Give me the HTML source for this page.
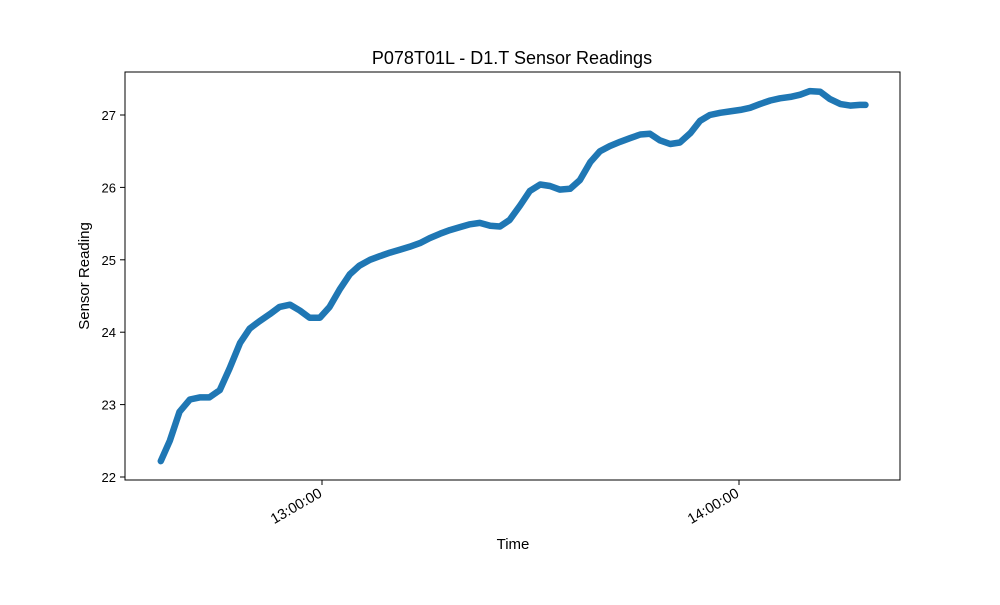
<!DOCTYPE html>
<html><head><meta charset="utf-8"><style>
body{margin:0;background:#fff}
svg text{font-family:"Liberation Sans","DejaVu Sans",sans-serif;fill:#000}
</style></head><body>
<svg id="chart" width="1000" height="600">
<rect width="1000" height="600" fill="#fff"/>
<text x="512" y="64" font-size="18" text-anchor="middle">P078T01L - D1.T Sensor Readings</text>
<g id="plot"></g>
<rect x="125" y="72" width="775" height="408" fill="none" stroke="#000" stroke-width="1"/>
<text x="513" y="549" font-size="15" text-anchor="middle">Time</text>
<text transform="translate(89,276) rotate(-90)" font-size="15" text-anchor="middle">Sensor Reading</text>
</svg>
<script>
// minutes since 12:00
const times=[36.8,38.1,39.5,41.0,42.4,43.8,45.3,46.7,48.2,49.6,51.0,52.5,53.9,55.4,56.8,58.2,59.7,61.1,62.6,64.0,65.4,66.9,68.3,69.8,71.2,72.6,74.1,75.5,77.0,78.4,79.8,81.3,82.7,84.2,85.6,87.0,88.5,89.9,91.4,92.8,94.2,95.7,97.1,98.6,100.0,101.4,102.9,104.3,105.8,107.2,108.6,110.1,111.5,113.0,114.4,115.8,117.3,118.7,120.2,121.6,123.0,124.5,125.9,127.4,128.8,130.2,131.7,133.1,134.6,136.0,137.4,138.2];
const readings=[22.22,22.5,22.9,23.07,23.1,23.1,23.2,23.5,23.85,24.05,24.15,24.25,24.35,24.38,24.3,24.2,24.2,24.35,24.6,24.8,24.92,25.0,25.05,25.1,25.14,25.18,25.23,25.3,25.36,25.41,25.45,25.49,25.51,25.47,25.46,25.55,25.75,25.95,26.04,26.02,25.97,25.98,26.1,26.35,26.5,26.57,26.63,26.68,26.73,26.74,26.65,26.6,26.62,26.75,26.92,27.0,27.03,27.05,27.07,27.1,27.15,27.2,27.23,27.25,27.28,27.33,27.32,27.22,27.15,27.13,27.14,27.14];
const yTicks=[22,23,24,25,26,27];
const xTicks=[60,120];
const xTickLabels=["13:00:00","14:00:00"];
const NS="http://www.w3.org/2000/svg";
const X=m=>322+(m-60)*417/60;
const Y=v=>477-(v-22)*72.4;
const g=document.getElementById('plot');
function mk(t,a){const e=document.createElementNS(NS,t);for(const k in a)e.setAttribute(k,a[k]);g.appendChild(e);return e;}
yTicks.forEach(v=>{
 const l=mk('line',{x1:125,x2:120,y1:Y(v),y2:Y(v),stroke:'#000'});
 
 
 const t=mk('text',{x:116,y:Y(v)+5,'font-size':13,'text-anchor':'end'});t.textContent=v;
 
 
});
xTicks.forEach((m,i)=>{
 const l=mk('line',{x1:X(m),x2:X(m),y1:480,y2:485,stroke:'#000'});
 
 
 const t=mk('text',{transform:`translate(${X(m)+1},${496}) rotate(-30)`,'font-size':14.5,'text-anchor':'end'});t.textContent=xTickLabels[i];
 
 
});
const pts=times.map((m,i)=>X(m).toFixed(1)+','+Y(readings[i]).toFixed(1)).join(' ');
const p=mk('polyline',{points:pts,fill:'none',stroke:'#1f77b4','stroke-width':6.5,'stroke-linecap':'round','stroke-linejoin':'round'});


</script>
</body></html>
